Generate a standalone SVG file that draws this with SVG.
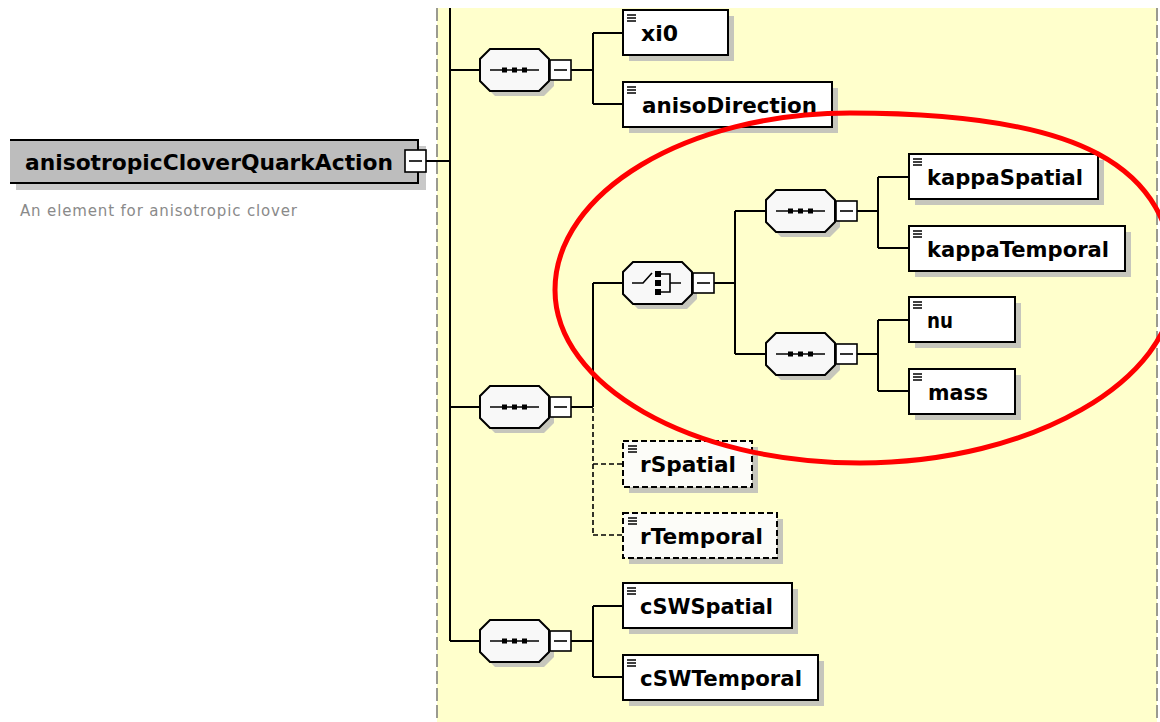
<svg xmlns="http://www.w3.org/2000/svg" xmlns:xlink="http://www.w3.org/1999/xlink" width="1160" height="722" viewBox="0 0 1160 722">
<style>
.conn{stroke:#000;stroke-width:2;fill:none}
.dconn{stroke:#000;stroke-width:1.6;stroke-dasharray:5 3;fill:none}
.box{fill:#fff;stroke:#000;stroke-width:2}
.dbox{fill:#fcfcf8;stroke:#000;stroke-width:2;stroke-dasharray:6 3}
.shadow{fill:#c6c6bc}
.icon{stroke:#000;stroke-width:1.3;fill:none}
.lbl{font-family:"DejaVu Sans",sans-serif;font-weight:bold;font-size:21px;fill:#000}
.oct{fill:#f8f8f8;stroke:#000;stroke-width:2}
.exp{fill:#fff;stroke:#000;stroke-width:1.6}
.thin{stroke:#000;stroke-width:1.6;fill:none}
.panelb{stroke:#9a9a90;stroke-width:2;stroke-dasharray:13 4;fill:none}
</style>
<defs>
<g id="seq">
<polygon class="shadow" points="15,5 64,5 74,15 74,37 64,47 15,47 5,37 5,15"/>
<polygon class="oct" points="10,0 59,0 69,10 69,32 59,42 10,42 0,32 0,10"/>
<path class="thin" d="M10 21 H59"/>
<rect x="22" y="18.5" width="5" height="5" fill="#000"/>
<rect x="32" y="18.5" width="5" height="5" fill="#000"/>
<rect x="42" y="18.5" width="5" height="5" fill="#000"/>
<rect class="exp" x="70" y="11" width="21" height="20"/>
<path class="thin" d="M74 21 H87"/>
</g>
<g id="choice">
<polygon class="shadow" points="15,5 64,5 74,15 74,37 64,47 15,47 5,37 5,15"/>
<polygon class="oct" points="10,0 59,0 69,10 69,32 59,42 10,42 0,32 0,10"/>
<path class="thin" d="M9 21 H20 L29 11"/>
<rect x="32" y="9" width="6" height="6" fill="#000"/>
<rect x="32" y="18" width="6" height="6" fill="#000"/>
<rect x="32" y="27" width="6" height="6" fill="#000"/>
<path class="thin" d="M38 12 H47 V30 H38 M47 21 H58"/>
<rect class="exp" x="70" y="11" width="21" height="20"/>
<path class="thin" d="M74 21 H87"/>
</g>
</defs>

<rect x="437" y="8" width="720" height="714" fill="#ffffcc"/>
<path class="panelb" d="M437 8 V722 M1157 8 V722"/>

<g id="root">
<rect x="16" y="146" width="410" height="44" fill="#c8c8c8"/>
<rect x="10" y="140" width="408" height="43" fill="#bdbdbd"/>
<path d="M10 140 H418 V183 H10" stroke="#000" stroke-width="2" fill="none"/>
<text x="25" y="170" font-family="DejaVu Sans, sans-serif" font-weight="bold" font-size="22" textLength="368" lengthAdjust="spacingAndGlyphs" fill="#000">anisotropicCloverQuarkAction</text>
<rect class="exp" x="405" y="150" width="21" height="22"/>
<path class="thin" d="M409 161 H422"/>
<text x="20" y="216" font-family="DejaVu Sans, sans-serif" font-size="15" textLength="277" lengthAdjust="spacing" fill="#8a8a8a">An element for anisotropic clover</text>
</g>

<g id="connectors">
<path class="conn" d="M450 8 V641 M426 161 H450 M450 70 H480 M450 407 H480 M450 641 H480"/>
<path class="conn" d="M571 70 H593 M593 33 V104 M593 33 H623 M593 104 H623"/>
<path class="conn" d="M571 407 H593 M593 283 V407 M593 283 H623"/>
<path class="conn" d="M713 283 H735 M735 211 V354 M735 211 H766 M735 354 H766"/>
<path class="conn" d="M857 211 H878 M878 177 V248 M878 177 H909 M878 248 H909"/>
<path class="conn" d="M857 354 H878 M878 320 V391 M878 320 H909 M878 391 H909"/>
<path class="conn" d="M571 641 H593 M593 606 V677 M593 606 H623 M593 677 H623"/>
<path class="dconn" d="M593 408 V535 M593 464 H623 M593 535 H623"/>
</g>

<g id="seq1"><use xlink:href="#seq" href="#seq" transform="translate(480,49)"/></g>
<g id="seq2"><use xlink:href="#seq" href="#seq" transform="translate(480,386)"/></g>
<g id="seq3"><use xlink:href="#seq" href="#seq" transform="translate(480,620)"/></g>
<g id="choice1"><use xlink:href="#choice" href="#choice" transform="translate(623,262)"/></g>
<g id="seqK"><use xlink:href="#seq" href="#seq" transform="translate(766,190)"/></g>
<g id="seqN"><use xlink:href="#seq" href="#seq" transform="translate(766,333)"/></g>

<g id="xi0">
<rect class="shadow" x="629" y="16" width="105" height="45"/>
<rect class="box" x="623" y="10" width="105" height="45"/>
<path class="icon" d="M627 15 h9 M627 18 h9 M627 21 h9"/>
<text class="lbl" x="641" y="41" textLength="37" lengthAdjust="spacingAndGlyphs">xi0</text>
</g>
<g id="anisoDirection">
<rect class="shadow" x="629" y="88" width="209" height="45"/>
<rect class="box" x="623" y="82" width="209" height="45"/>
<path class="icon" d="M627 87 h9 M627 90 h9 M627 93 h9"/>
<text class="lbl" x="642" y="113" textLength="175" lengthAdjust="spacingAndGlyphs">anisoDirection</text>
</g>
<g id="kappaSpatial">
<rect class="shadow" x="915" y="160" width="189" height="45"/>
<rect class="box" x="909" y="154" width="189" height="45"/>
<path class="icon" d="M913 159 h9 M913 162 h9 M913 165 h9"/>
<text class="lbl" x="927" y="185" textLength="156" lengthAdjust="spacingAndGlyphs">kappaSpatial</text>
</g>
<g id="kappaTemporal">
<rect class="shadow" x="915" y="232" width="216" height="45"/>
<rect class="box" x="909" y="226" width="216" height="45"/>
<path class="icon" d="M913 231 h9 M913 234 h9 M913 237 h9"/>
<text class="lbl" x="927" y="257" textLength="182" lengthAdjust="spacingAndGlyphs">kappaTemporal</text>
</g>
<g id="nu">
<rect class="shadow" x="915" y="303" width="106" height="45"/>
<rect class="box" x="909" y="297" width="106" height="45"/>
<path class="icon" d="M913 302 h9 M913 305 h9 M913 308 h9"/>
<text class="lbl" x="927" y="328" textLength="26" lengthAdjust="spacingAndGlyphs">nu</text>
</g>
<g id="mass">
<rect class="shadow" x="915" y="375" width="106" height="45"/>
<rect class="box" x="909" y="369" width="106" height="45"/>
<path class="icon" d="M913 374 h9 M913 377 h9 M913 380 h9"/>
<text class="lbl" x="928" y="400" textLength="60" lengthAdjust="spacingAndGlyphs">mass</text>
</g>
<g id="rSpatial">
<rect class="shadow" x="629" y="447" width="129" height="46"/>
<rect class="dbox" x="623" y="441" width="129" height="46"/>
<path class="icon" d="M628 446 h9 M628 449 h9 M628 452 h9"/>
<text class="lbl" x="640" y="472" textLength="96" lengthAdjust="spacingAndGlyphs">rSpatial</text>
</g>
<g id="rTemporal">
<rect class="shadow" x="629" y="519" width="154" height="45"/>
<rect class="dbox" x="623" y="513" width="154" height="45"/>
<path class="icon" d="M628 518 h9 M628 521 h9 M628 524 h9"/>
<text class="lbl" x="640" y="544" textLength="123" lengthAdjust="spacingAndGlyphs">rTemporal</text>
</g>
<g id="cSWSpatial">
<rect class="shadow" x="629" y="589" width="169" height="45"/>
<rect class="box" x="623" y="583" width="169" height="45"/>
<path class="icon" d="M627 588 h9 M627 591 h9 M627 594 h9"/>
<text class="lbl" x="640" y="614" textLength="133" lengthAdjust="spacingAndGlyphs">cSWSpatial</text>
</g>
<g id="cSWTemporal">
<rect class="shadow" x="629" y="661" width="195" height="45"/>
<rect class="box" x="623" y="655" width="195" height="45"/>
<path class="icon" d="M627 660 h9 M627 663 h9 M627 666 h9"/>
<text class="lbl" x="640" y="686" textLength="162" lengthAdjust="spacingAndGlyphs">cSWTemporal</text>
</g>

<path d="M555 290 C555 192 687 113 850 113 C1080 113 1174 165 1174 285 C1174 380 1032 463 860 463 C690 463 555 385 555 290 Z" fill="none" stroke="#ff0000" stroke-width="5"/>
</svg>
